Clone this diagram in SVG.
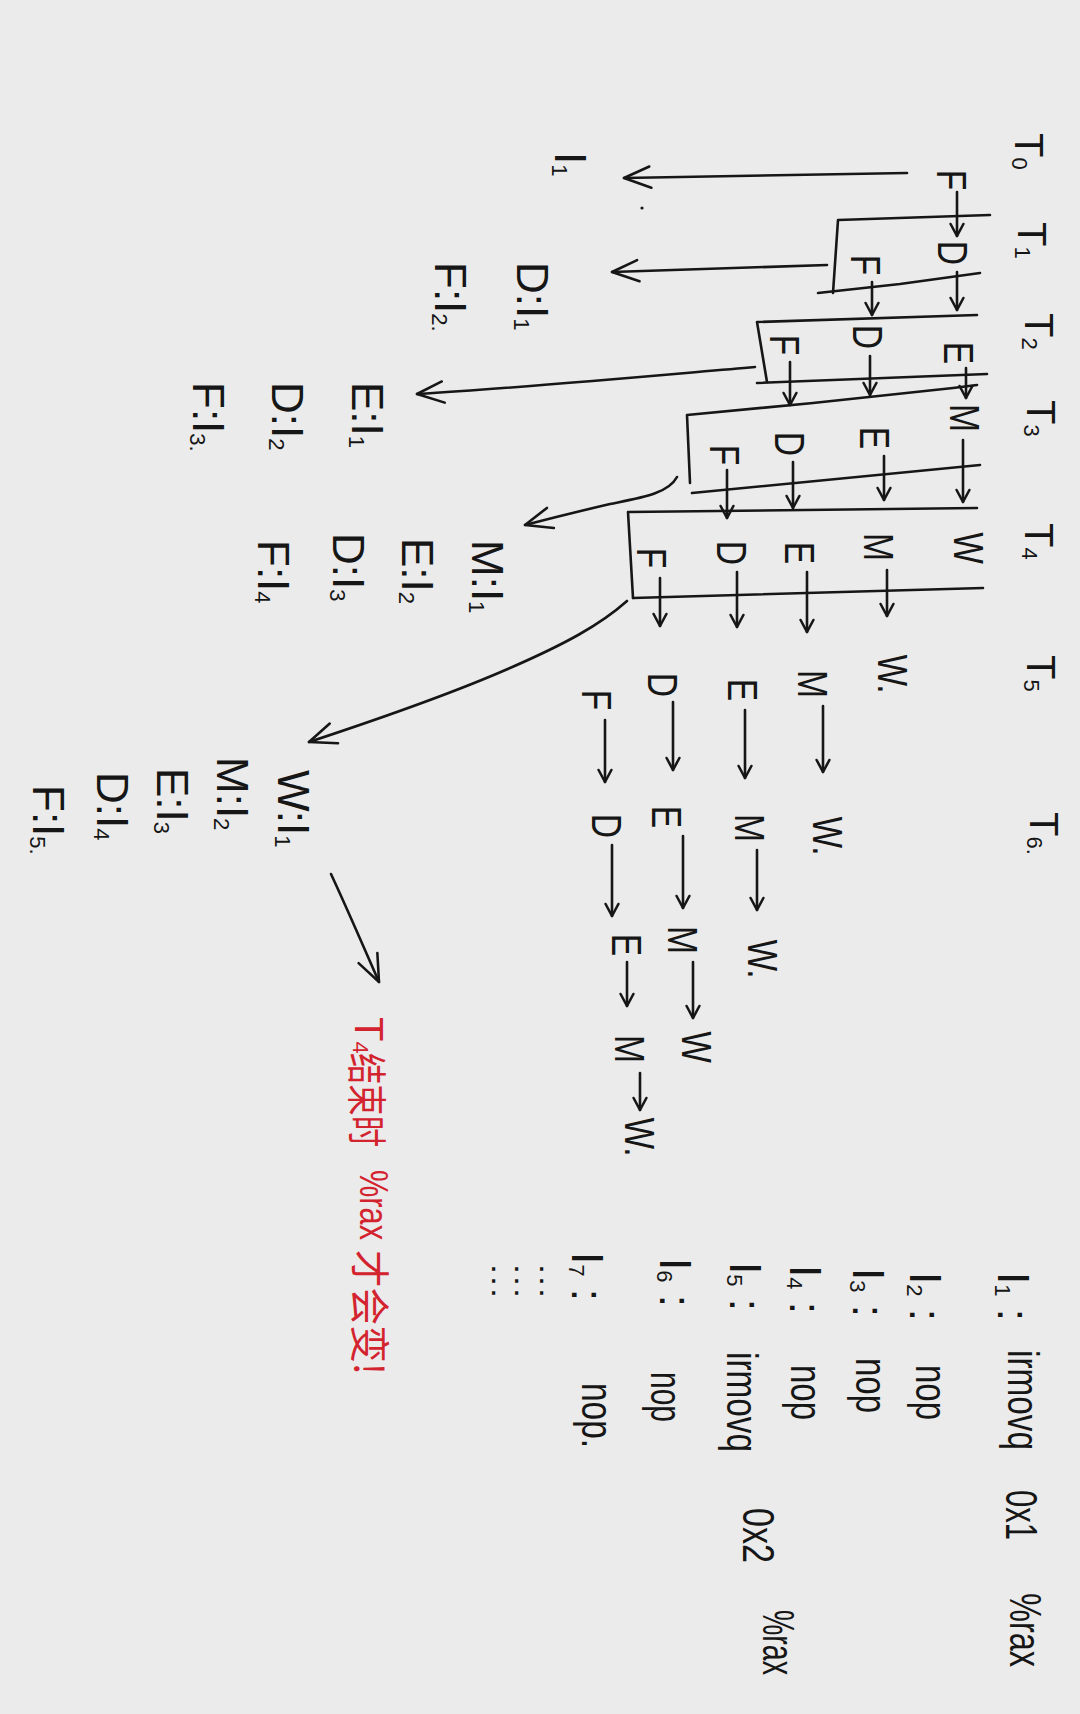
<svg xmlns="http://www.w3.org/2000/svg" width="1080" height="1714" viewBox="0 0 1080 1714">
<defs>
<style>
.k{fill:none;stroke:#161616;stroke-width:2.6;stroke-linecap:round;stroke-linejoin:round}
.a{marker-end:url(#hs)}
.A{marker-end:url(#hl)}
text{font-family:"Liberation Sans","DejaVu Sans",sans-serif;fill:#161616}
.p{font-size:42px;text-anchor:middle}
.tm{font-size:40px}
.sb{font-size:22px}
.L{font-size:44px}
.r{fill:#d3232f;font-size:40px}
.cj{font-family:"Noto Sans CJK SC",sans-serif}
.dt{font-size:30px}
</style>
<marker id="hs" viewBox="0 0 20 20" refX="18" refY="10" markerWidth="16" markerHeight="16" markerUnits="userSpaceOnUse" orient="auto">
<path d="M3,2 L18,10 L3,18" fill="none" stroke="#161616" stroke-width="3.2" stroke-linecap="round" stroke-linejoin="round"/>
</marker>
<marker id="hl" viewBox="0 0 40 40" refX="38" refY="20" markerWidth="34" markerHeight="34" markerUnits="userSpaceOnUse" orient="auto">
<path d="M6,8 L38,20 L8,33" fill="none" stroke="#161616" stroke-width="3" stroke-linecap="round" stroke-linejoin="round"/>
</marker>
</defs>
<rect width="1080" height="1714" fill="#ebebeb"/>

<g id="times">
<text class="tm" transform="translate(1015,133) rotate(90)">T<tspan class="sb" dy="3">0</tspan></text>
<text class="tm" transform="translate(1018,222) rotate(90)">T<tspan class="sb" dy="3">1</tspan></text>
<text class="tm" transform="translate(1025,313) rotate(90)">T<tspan class="sb" dy="3">2</tspan></text>
<text class="tm" transform="translate(1027,400) rotate(90)">T<tspan class="sb" dy="3">3</tspan></text>
<text class="tm" transform="translate(1025,523) rotate(90)">T<tspan class="sb" dy="3">4</tspan></text>
<text class="tm" transform="translate(1027,655) rotate(90)">T<tspan class="sb" dy="3">5</tspan></text>
<text class="tm" transform="translate(1030,812) rotate(90)">T<tspan class="sb" dy="3">6</tspan><tspan class="sb">.</tspan></text>
</g>

<g id="boxes">
<path class="k" d="M990,215 L838,220 L833,293"/>
<path class="k" d="M818,293 L900,284 L980,273"/>
<path class="k" d="M977,315 L757,322 L767,382"/>
<path class="k" d="M757,383 L987,374"/>
<path class="k" d="M977,385 L953,388 L813,403 L687,415 L690,483"/>
<path class="k" d="M692,493 L980,465"/>
<path class="k" d="M977,508 L628,512 L633,598"/>
<path class="k" d="M633,598 L983,588"/>
</g>

<g id="instr1">
<text class="p" transform="translate(952,180) rotate(90) scale(.8,1)" y="15">F</text>
<text class="p" transform="translate(953,253) rotate(90) scale(.8,1)" y="15">D</text>
<text class="p" transform="translate(959,353) rotate(90) scale(.8,1)" y="15">E</text>
<text class="p" transform="translate(965,418) rotate(90) scale(.8,1)" y="15">M</text>
<text class="p" transform="translate(969,548) rotate(90) scale(.8,1)" y="15">W</text>
</g>
<g id="instr2">
<text class="p" transform="translate(866,265) rotate(90) scale(.8,1)" y="15">F</text>
<text class="p" transform="translate(868,337) rotate(90) scale(.8,1)" y="15">D</text>
<text class="p" transform="translate(875,438) rotate(90) scale(.8,1)" y="15">E</text>
<text class="p" transform="translate(879,547) rotate(90) scale(.8,1)" y="15">M</text>
<text class="p" transform="translate(893,674) rotate(90) scale(.8,1)" y="15">W.</text>
</g>
<g id="instr3">
<text class="p" transform="translate(785,345) rotate(90) scale(.8,1)" y="15">F</text>
<text class="p" transform="translate(790,444) rotate(90) scale(.8,1)" y="15">D</text>
<text class="p" transform="translate(800,553) rotate(90) scale(.8,1)" y="15">E</text>
<text class="p" transform="translate(813,684) rotate(90) scale(.8,1)" y="15">M</text>
<text class="p" transform="translate(828,836) rotate(90) scale(.8,1)" y="15">W.</text>
</g>
<g id="instr4">
<text class="p" transform="translate(725,455) rotate(90) scale(.8,1)" y="15">F</text>
<text class="p" transform="translate(732,553) rotate(90) scale(.8,1)" y="15">D</text>
<text class="p" transform="translate(743,690) rotate(90) scale(.8,1)" y="15">E</text>
<text class="p" transform="translate(750,828) rotate(90) scale(.8,1)" y="15">M</text>
<text class="p" transform="translate(763,959) rotate(90) scale(.8,1)" y="15">W.</text>
</g>
<g id="instr5">
<text class="p" transform="translate(652,558) rotate(90) scale(.8,1)" y="15">F</text>
<text class="p" transform="translate(663,685) rotate(90) scale(.8,1)" y="15">D</text>
<text class="p" transform="translate(667,817) rotate(90) scale(.8,1)" y="15">E</text>
<text class="p" transform="translate(683,940) rotate(90) scale(.8,1)" y="15">M</text>
<text class="p" transform="translate(697,1047) rotate(90) scale(.8,1)" y="15">W</text>
</g>
<g id="instr6">
<text class="p" transform="translate(597,700) rotate(90) scale(.8,1)" y="15">F</text>
<text class="p" transform="translate(607,826) rotate(90) scale(.8,1)" y="15">D</text>
<text class="p" transform="translate(627,945) rotate(90) scale(.8,1)" y="15">E</text>
<text class="p" transform="translate(630,1049) rotate(90) scale(.8,1)" y="15">M</text>
<text class="p" transform="translate(640,1137) rotate(90) scale(.8,1)" y="15">W.</text>
</g>

<g id="connectors">
<path class="k a" d="M957,192 L957,236"/>
<path class="k a" d="M957,272 L957,310"/>
<path class="k a" d="M966,368 L966,398"/>
<path class="k a" d="M963,440 L963,502"/>
<path class="k a" d="M872,282 L872,315"/>
<path class="k a" d="M870,356 L870,395"/>
<path class="k a" d="M884,456 L884,500"/>
<path class="k a" d="M887,570 L887,616"/>
<path class="k a" d="M790,362 L790,405"/>
<path class="k a" d="M793,462 L793,508"/>
<path class="k a" d="M807,572 L807,632"/>
<path class="k a" d="M823,706 L823,772"/>
<path class="k a" d="M727,470 L727,518"/>
<path class="k a" d="M737,572 L737,627"/>
<path class="k a" d="M745,710 L745,778"/>
<path class="k a" d="M757,850 L757,910"/>
<path class="k a" d="M660,578 L660,626"/>
<path class="k a" d="M673,702 L673,770"/>
<path class="k a" d="M683,836 L683,908"/>
<path class="k a" d="M693,962 L693,1018"/>
<path class="k a" d="M605,720 L605,782"/>
<path class="k a" d="M612,845 L612,916"/>
<path class="k a" d="M627,962 L627,1006"/>
<path class="k a" d="M640,1073 L640,1110"/>
<path class="k A" d="M907,173 L624,178"/>
<path class="k A" d="M827,265 L612,272"/>
<path class="k A" d="M755,367 C650,376 520,388 417,394"/>
<path class="k A" d="M677,477 C668,494 640,498 610,504 C580,511 552,518 525,525"/>
<path class="k A" d="M627,601 C600,625 565,644 510,668 C460,690 400,712 309,742"/>
<path class="k A" d="M331,874 C350,915 364,948 379,982"/>
<circle cx="642" cy="208" r="1.6" fill="#161616"/>
</g>

<g id="states">
<text class="L" transform="translate(555,152) rotate(90)">I<tspan class="sb" dy="3">1</tspan></text>
<text class="L" transform="translate(517,262) rotate(90)">D:I<tspan class="sb" dy="3">1</tspan></text>
<text class="L" transform="translate(435,262) rotate(90)">F:I<tspan class="sb" dy="3">2</tspan><tspan class="sb">.</tspan></text>
<text class="L" transform="translate(352,382) rotate(90)">E:I<tspan class="sb" dy="3">1</tspan></text>
<text class="L" transform="translate(272,382) rotate(90)">D:I<tspan class="sb" dy="3">2</tspan></text>
<text class="L" transform="translate(193,382) rotate(90)">F:I<tspan class="sb" dy="3">3</tspan><tspan class="sb">.</tspan></text>
<text class="L" transform="translate(472,540) rotate(90)">M:I<tspan class="sb" dy="3">1</tspan></text>
<text class="L" transform="translate(402,538) rotate(90)">E:I<tspan class="sb" dy="3">2</tspan></text>
<text class="L" transform="translate(333,533) rotate(90)">D:I<tspan class="sb" dy="3">3</tspan></text>
<text class="L" transform="translate(258,540) rotate(90)">F:I<tspan class="sb" dy="3">4</tspan></text>
<text class="L" transform="translate(278,770) rotate(90)">W:I<tspan class="sb" dy="3">1</tspan></text>
<text class="L" transform="translate(217,757) rotate(90)">M:I<tspan class="sb" dy="3">2</tspan></text>
<text class="L" transform="translate(157,768) rotate(90)">E:I<tspan class="sb" dy="3">3</tspan></text>
<text class="L" transform="translate(97,772) rotate(90)">D:I<tspan class="sb" dy="3">4</tspan></text>
<text class="L" transform="translate(33,785) rotate(90)">F:I<tspan class="sb" dy="3">5</tspan><tspan class="sb">.</tspan></text>
</g>

<g id="note">
<text class="r" transform="translate(355,1017) rotate(90)">T<tspan class="sb" dy="2">4</tspan></text>
<text class="r cj" transform="translate(352,1053) rotate(90)" textLength="94" lengthAdjust="spacingAndGlyphs">结束时</text>
<text class="r" transform="translate(360,1170) rotate(90)" textLength="70" lengthAdjust="spacingAndGlyphs">%rax</text>
<text class="r cj" transform="translate(355,1250) rotate(90)" textLength="125" lengthAdjust="spacingAndGlyphs">才会变!</text>
</g>

<g id="program">
<text class="L" transform="translate(998,1272) rotate(90)">I<tspan class="sb" dy="3">1</tspan><tspan dy="-3"> :</tspan></text>
<text class="L" transform="translate(1008,1350) rotate(90)" textLength="100" lengthAdjust="spacingAndGlyphs">irmovq</text>
<text class="L" transform="translate(1006,1490) rotate(90)" textLength="50" lengthAdjust="spacingAndGlyphs">0x1</text>
<text class="L" transform="translate(1010,1593) rotate(90)" textLength="74" lengthAdjust="spacingAndGlyphs">%rax</text>

<text class="L" transform="translate(910,1272) rotate(90)">I<tspan class="sb" dy="3">2</tspan><tspan dy="-3"> :</tspan></text>
<text class="L" transform="translate(916,1365) rotate(90)" textLength="55" lengthAdjust="spacingAndGlyphs">nop</text>

<text class="L" transform="translate(853,1268) rotate(90)">I<tspan class="sb" dy="3">3</tspan><tspan dy="-3"> :</tspan></text>
<text class="L" transform="translate(856,1358) rotate(90)" textLength="55" lengthAdjust="spacingAndGlyphs">nop</text>

<text class="L" transform="translate(790,1265) rotate(90)">I<tspan class="sb" dy="3">4</tspan><tspan dy="-3"> :</tspan></text>
<text class="L" transform="translate(791,1365) rotate(90)" textLength="55" lengthAdjust="spacingAndGlyphs">nop</text>

<text class="L" transform="translate(730,1262) rotate(90)">I<tspan class="sb" dy="3">5</tspan><tspan dy="-3"> :</tspan></text>
<text class="L" transform="translate(727,1352) rotate(90)" textLength="100" lengthAdjust="spacingAndGlyphs">irmovq</text>
<text class="L" transform="translate(743,1508) rotate(90)" textLength="55" lengthAdjust="spacingAndGlyphs">0x2</text>
<text class="L" transform="translate(763,1610) rotate(90)" textLength="65" lengthAdjust="spacingAndGlyphs">%rax</text>

<text class="L" transform="translate(660,1258) rotate(90)">I<tspan class="sb" dy="3">6</tspan><tspan dy="-3"> :</tspan></text>
<text class="L" transform="translate(651,1372) rotate(90)" textLength="50" lengthAdjust="spacingAndGlyphs">nop</text>

<text class="L" transform="translate(572,1252) rotate(90)">I<tspan class="sb" dy="3">7</tspan><tspan dy="-3"> :</tspan></text>
<text class="L" transform="translate(582,1383) rotate(90)" textLength="65" lengthAdjust="spacingAndGlyphs">nop.</text>

<text class="dt" transform="translate(540,1262) rotate(90)" textLength="38" lengthAdjust="spacingAndGlyphs">…</text>
<text class="dt" transform="translate(515,1262) rotate(90)" textLength="38" lengthAdjust="spacingAndGlyphs">…</text>
<text class="dt" transform="translate(492,1262) rotate(90)" textLength="38" lengthAdjust="spacingAndGlyphs">…</text>
</g>
</svg>
